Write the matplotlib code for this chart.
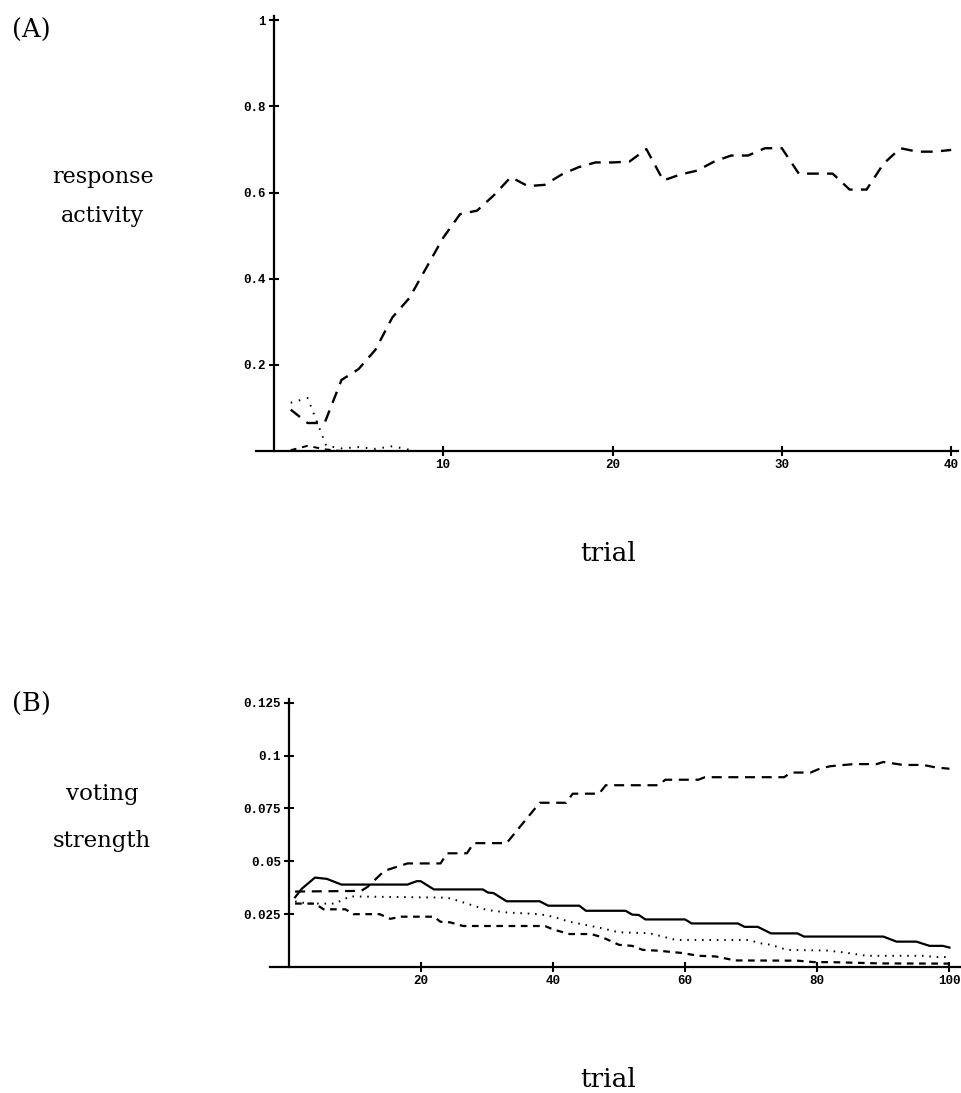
import matplotlib
matplotlib.use("Agg")
import matplotlib.pyplot as plt

# ---------------- Data ----------------
# Panel A: response activity vs trial
a_trials = list(range(1, 41))
a_main = [0.096, 0.065, 0.065, 0.165, 0.19, 0.235, 0.31, 0.355, 0.425, 0.495,
          0.55, 0.558, 0.594, 0.636, 0.615, 0.618, 0.642, 0.659, 0.670, 0.670,
          0.672, 0.701, 0.628, 0.642, 0.651, 0.672, 0.686, 0.686, 0.703, 0.703,
          0.644, 0.644, 0.644, 0.607, 0.607, 0.667, 0.703, 0.695, 0.695, 0.699]
a_dot_trials = [1, 2, 3.1, 4, 5, 6, 7, 8]
a_dot = [0.112, 0.123, 0.012, 0.006, 0.009, 0.005, 0.011, 0.003]
a_small_trials = [1, 2, 3, 4]
a_small = [0.002, 0.012, 0.004, 0.0]

a_xticks = [10, 20, 30, 40]
a_yticks = [0.2, 0.4, 0.6, 0.8, 1.0]
a_yticklabels = ["0.2", "0.4", "0.6", "0.8", "1"]

# Panel B: voting strength vs trial (read breakpoints)
b_rise_x = [1, 11, 12, 14.5, 18, 23, 24, 27, 28, 33, 38, 42, 43, 47, 48, 56, 57,
            62, 63, 75, 76, 79, 80.5, 82, 85.5, 89, 90, 93, 96, 98, 100]
b_rise_y = [0.0357, 0.036, 0.038, 0.0455, 0.049, 0.049, 0.0538, 0.0538, 0.0586,
            0.0586, 0.0777, 0.0777, 0.082, 0.082, 0.086, 0.086, 0.0886, 0.0886,
            0.0898, 0.0898, 0.092, 0.092, 0.094, 0.095, 0.096, 0.096, 0.097,
            0.0956, 0.0956, 0.0944, 0.0938]

b_solid_x = [1, 2, 4, 5.8, 8, 18, 19.4, 20, 22, 29.4, 30.2, 31, 33, 38, 39.3, 44,
             45, 51, 52, 53, 54, 60, 61, 68, 69, 71, 73, 77, 78, 90, 92, 95, 97,
             99, 100]
b_solid_y = [0.033, 0.037, 0.0423, 0.0417, 0.039, 0.039, 0.0406, 0.0406, 0.0367,
             0.0367, 0.0352, 0.035, 0.0311, 0.0311, 0.029, 0.029, 0.0266, 0.0266,
             0.0248, 0.0246, 0.0225, 0.0225, 0.0206, 0.0206, 0.019, 0.019, 0.0159,
             0.0159, 0.0144, 0.0144, 0.012, 0.012, 0.0100, 0.0100, 0.0092]

b_dot_x = [1, 3, 5, 7, 9.3, 24, 25.5, 28, 30, 33, 38, 40, 42.5, 44, 47.5, 50,
           54.6, 58.6, 69.7, 71.2, 73, 75.4, 81.4, 84, 87.5, 96, 98, 100]
b_dot_y = [0.031, 0.030, 0.030, 0.030, 0.0334, 0.0328, 0.0315, 0.0290, 0.027,
           0.0258, 0.0250, 0.0238, 0.0214, 0.0205, 0.0183, 0.0164, 0.016, 0.0128,
           0.0128, 0.0113, 0.0105, 0.0081, 0.0078, 0.0069, 0.0053, 0.0053, 0.0047,
           0.0047]

b_low_x = [1, 4, 5.3, 8.6, 9.8, 13.8, 15.4, 17, 22, 23, 24.5, 26.4, 38.8, 40,
           42.5, 45.8, 47.6, 50, 52, 53.6, 56, 59.6, 62, 64.6, 67.6, 77, 79.5, 82,
           89.6, 100]
b_low_y = [0.030, 0.030, 0.0273, 0.0273, 0.025, 0.025, 0.0228, 0.0238, 0.0238,
           0.0214, 0.0211, 0.0194, 0.0194, 0.0178, 0.0156, 0.0156, 0.0139, 0.0105,
           0.0100, 0.0081, 0.0077, 0.0066, 0.0053, 0.005, 0.0031, 0.003, 0.0023,
           0.0023, 0.0017, 0.0016]

b_xticks = [20, 40, 60, 80, 100]
b_yticks = [0.025, 0.05, 0.075, 0.1, 0.125]
b_yticklabels = ["0.025", "0.05", "0.075", "0.1", "0.125"]

# ---------------- Figure ----------------
W, H = 961, 1093
fig = plt.figure(figsize=(W / 100, H / 100), dpi=100)
fig.patch.set_facecolor("white")

serif = "DejaVu Serif"
mono = "Liberation Mono"


def px_axes(left, right, top, bottom):
    return fig.add_axes([left / W, 1 - bottom / H, (right - left) / W, (bottom - top) / H])


def style_axes(ax, xticks, yticks, yticklabels):
    for s in ("top", "right"):
        ax.spines[s].set_visible(False)
    ax.spines["left"].set_position(("data", 0))
    ax.spines["bottom"].set_position(("data", 0))
    for s in ("left", "bottom"):
        ax.spines[s].set_linewidth(1.6)
    ax.set_xticks(xticks)
    ax.set_xticklabels([str(t) for t in xticks], fontfamily=mono, fontsize=9,
                       fontweight="bold")
    ax.set_yticks(yticks)
    ax.set_yticklabels(yticklabels, fontfamily=mono, fontsize=9, fontweight="bold")
    ax.tick_params(direction="inout", length=7, width=1.5, pad=2)
    ax.patch.set_alpha(0)


# Panel A
axA = px_axes(256, 958, 16, 451)
axA.set_xlim(-1.05, 40.4)
axA.set_ylim(0, 1.01)
style_axes(axA, a_xticks, a_yticks, a_yticklabels)
axA.plot(a_trials, a_main, color="black", lw=1.7, dashes=(5.0, 3.5))
axA.plot(a_dot_trials, a_dot, color="black", lw=1.4, dashes=(0.8, 3.5))
axA.plot(a_small_trials, a_small, color="black", lw=1.4, dashes=(3.0, 3.0))

# Panel B
axB = px_axes(270, 960, 699, 967)
axB.set_xlim(-2.8, 101.6)
axB.set_ylim(0, 0.1268)
style_axes(axB, b_xticks, b_yticks, b_yticklabels)
axB.plot(b_rise_x, b_rise_y, color="black", lw=1.6, dashes=(4.5, 3.0))
axB.plot(b_solid_x, b_solid_y, color="black", lw=1.6)
axB.plot(b_dot_x, b_dot_y, color="black", lw=1.4, dashes=(0.8, 3.0))
axB.plot(b_low_x, b_low_y, color="black", lw=1.6, dashes=(3.0, 2.5))


# Texts (pixel positions, baseline anchored)
def ftext(x, y, s, size, ha="center"):
    fig.text(x / W, 1 - y / H, s, fontsize=size, fontfamily=serif, ha=ha,
             va="baseline")


ftext(12, 38, "(A)", 18.5, ha="left")
ftext(103, 183, "response", 16)
ftext(103, 222, "activity", 16)
ftext(608, 561, "trial", 19)

ftext(12, 712, "(B)", 18.5, ha="left")
ftext(102, 800, "voting", 16.5)
ftext(102, 847, "strength", 16.5)
ftext(608, 1087, "trial", 19)

fig.savefig("out.png", dpi=100, facecolor="white")
